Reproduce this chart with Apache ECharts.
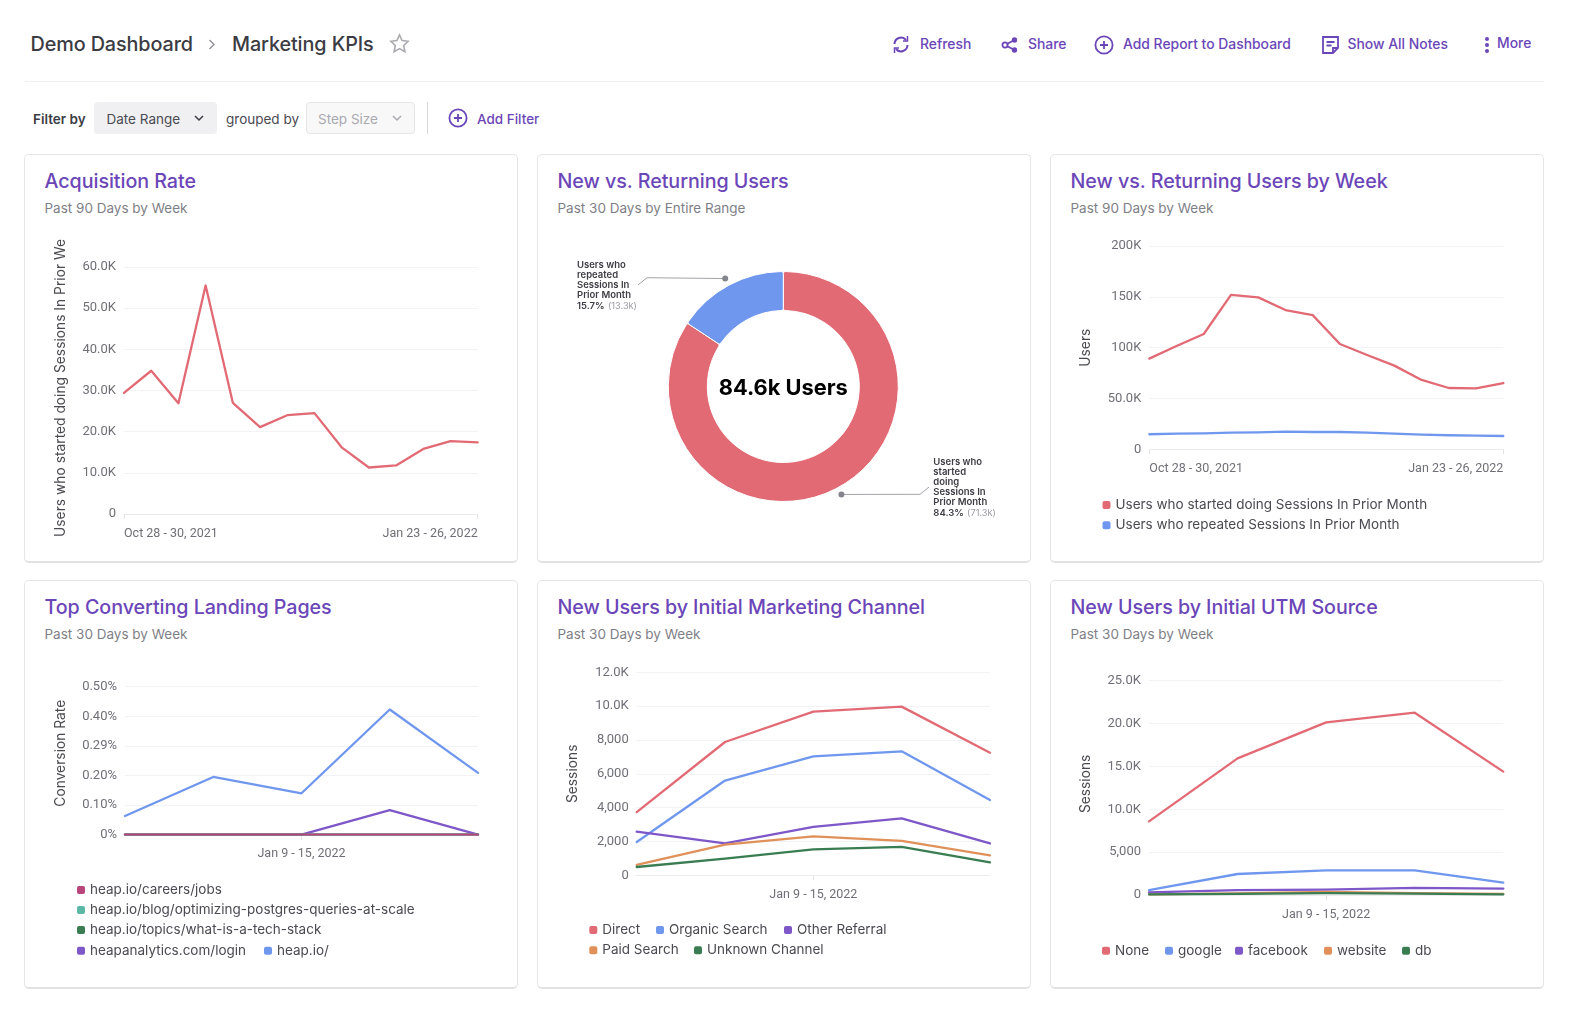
<!DOCTYPE html>
<html>
<head>
<meta charset="utf-8">
<title>Marketing KPIs</title>
<script src="https://cdn.jsdelivr.net/npm/echarts@6/dist/echarts.min.js"></script>
<style>
html,body{margin:0;padding:0;background:#fff;width:1576px;height:1018px;overflow:hidden;font-family:Inter,"Noto Sans",sans-serif;color:#3c3c44}
.abs{position:absolute;white-space:nowrap}
.crumb{font-size:19.8px;font-weight:500;top:31px;line-height:26px;color:#3b3b43;letter-spacing:-.1px}
.act{font-size:13.9px;font-weight:500;color:#6b46b8;top:35px;line-height:18px}
.rule{position:absolute;left:25px;top:81px;width:1519px;height:1px;background:#eeeef0}
.flt{font-size:13.5px;top:110px;line-height:18px}
.box{position:absolute;top:102px;height:32px;border-radius:4px;box-sizing:border-box}
.card{position:absolute;width:494px;height:409px;box-sizing:border-box;border:1px solid #e6e6e9;border-bottom:2px solid #e2e2e5;border-radius:5px;background:#fff}
.card h2{position:absolute;left:19.5px;top:13px;margin:0;font-size:19.7px;line-height:26px;font-weight:500;color:#6b46b8;white-space:nowrap;letter-spacing:-.05px}
.card p{position:absolute;left:19.5px;top:44px;margin:0;font-size:13.5px;line-height:18px;color:#7f7f87;white-space:nowrap}
.chart{position:absolute;left:-1px;top:-1px;width:494px;height:408px}
svg{position:absolute;overflow:visible}
</style>
</head>
<body>

<div class="abs crumb" style="left:30.500px">Demo Dashboard</div>
<svg style="left:208px;top:39px" width="8" height="11" fill="none" stroke="#8b8b93" stroke-width="1.3"><path d="M1.5 1l4.5 4.5-4.5 4.5"/></svg>
<div class="abs crumb" style="left:232px">Marketing KPIs</div>
<svg style="left:389px;top:33px" width="21" height="21" viewBox="0 0 21 21" fill="none" stroke="#a9a9b0" stroke-width="1.6"><path d="M10.5 2l2.6 5.6 6 .7-4.4 4.2 1.2 6.1-5.4-3-5.4 3 1.2-6.1L1.9 8.3l6-.7z"/></svg>

<svg style="left:891px;top:35px" width="20" height="19" viewBox="0 0 20 19" fill="none" stroke="#6b46b8" stroke-width="2"><path d="M3.5 9a6.5 6.5 0 0 1 11.5-4M16.5 10a6.5 6.5 0 0 1-11.5 4"/><path d="M16.5 1v5h-4.500M3.500 18v-5h4.500" stroke-width="1.500"/></svg>
<div class="abs act" style="left:920px">Refresh</div>
<svg style="left:1001px;top:37px" width="17" height="16" viewBox="0 0 17 16" fill="none" stroke="#6b46b8" stroke-width="1.800"><circle cx="4" cy="8" r="2.600"/><circle cx="13.500" cy="3" r="1.800" fill="#6b46b8"/><circle cx="13.500" cy="13" r="1.800" fill="#6b46b8"/><path d="M6.500 6.800l5.500-3M6.500 9.200l5.500 3"/></svg>
<div class="abs act" style="left:1028px">Share</div>
<svg style="left:1094px;top:35px" width="20" height="20" viewBox="0 0 20 20" fill="none" stroke="#6b46b8" stroke-width="1.800"><circle cx="10" cy="10" r="8.600"/><path d="M10 6v8M6 10h8"/></svg>
<div class="abs act" style="left:1123px">Add Report to Dashboard</div>
<svg style="left:1322px;top:36px" width="17" height="18" viewBox="0 0 17 18" fill="none" stroke="#6b46b8" stroke-width="1.800"><path d="M1 1h15v11l-5 5H1zM4.500 6h8M4.500 9.500h5M11 17v-5h5"/></svg>
<div class="abs act" style="left:1347.500px">Show All Notes</div>
<svg style="left:1484px;top:36px" width="6" height="18" fill="#6b46b8"><circle cx="3" cy="3" r="2"/><circle cx="3" cy="9" r="2"/><circle cx="3" cy="15" r="2"/></svg>
<div class="abs act" style="left:1497px;top:34px">More</div>

<div class="rule"></div>

<div class="abs flt" style="left:33px;font-weight:600;color:#3c3c44">Filter by</div>
<div class="box" style="left:94px;width:123px;background:#f0f0f2"></div>
<div class="abs flt" style="left:106.500px;color:#4a4a52">Date Range</div>
<svg style="left:194px;top:115px" width="10" height="7" fill="none" stroke="#3c3c44" stroke-width="1.500"><path d="M1 1l4 4 4-4"/></svg>
<div class="abs flt" style="left:226px;color:#4a4a52">grouped by</div>
<div class="box" style="left:306px;width:109px;background:#f8f8f9;border:1px solid #e6e6e9"></div>
<div class="abs flt" style="left:318px;color:#a9a9b0">Step Size</div>
<svg style="left:392px;top:115px" width="10" height="7" fill="none" stroke="#a9a9b0" stroke-width="1.500"><path d="M1 1l4 4 4-4"/></svg>
<div style="position:absolute;left:427px;top:102px;width:1px;height:32px;background:#d6d6da"></div>
<svg style="left:448px;top:108px" width="20" height="20" viewBox="0 0 20 20" fill="none" stroke="#6b46b8" stroke-width="1.800"><circle cx="10" cy="10" r="8.600"/><path d="M10 6v8M6 10h8"/></svg>
<div class="abs flt" style="left:477px;color:#6b46b8;font-weight:500">Add Filter</div>

<div class="card" style="left:24px;top:154px"><h2>Acquisition Rate</h2><p>Past 90 Days by Week</p><div class="chart" id="acquisition"></div></div>
<div class="card" style="left:537px;top:154px"><h2>New vs. Returning Users</h2><p>Past 30 Days by Entire Range</p><div class="chart" id="newReturning"></div></div>
<div class="card" style="left:1050px;top:154px"><h2>New vs. Returning Users by Week</h2><p>Past 90 Days by Week</p><div class="chart" id="newReturningWeek"></div></div>
<div class="card" style="left:24px;top:580px"><h2>Top Converting Landing Pages</h2><p>Past 30 Days by Week</p><div class="chart" id="landing"></div></div>
<div class="card" style="left:537px;top:580px"><h2>New Users by Initial Marketing Channel</h2><p>Past 30 Days by Week</p><div class="chart" id="channel"></div></div>
<div class="card" style="left:1050px;top:580px"><h2>New Users by Initial UTM Source</h2><p>Past 30 Days by Week</p><div class="chart" id="utm"></div></div>

<script>
// chart data
var weeks90 = ['Oct 28 - 30, 2021','Oct 31 - Nov 6','Nov 7 - 13','Nov 14 - 20','Nov 21 - 27','Nov 28 - Dec 4','Dec 5 - 11','Dec 12 - 18','Dec 19 - 25','Dec 26 - Jan 1','Jan 2 - 8','Jan 9 - 15','Jan 16 - 22','Jan 23 - 26, 2022'];
var weeks30 = ['Dec 28 - Jan 1','Jan 2 - 8','Jan 9 - 15, 2022','Jan 16 - 22','Jan 23 - 26'];

var acquisitionValues = [29400,34800,26900,55500,27000,21100,24000,24500,16200,11300,11800,15800,17700,17400];
var acquisitionTicks = ['0','10.0K','20.0K','30.0K','40.0K','50.0K','60.0K'];

var pieNames = ['Users who started doing Sessions In Prior Month','Users who repeated Sessions In Prior Month'];
var pieValues = [71300,13300];
var pieShares = ['84.3%','15.7%'];
var pieCounts = ['(71.3k)','(13.3k)'];
var pieWrapped = [['Users who','started','doing','Sessions In','Prior Month'],['Users who','repeated','Sessions In','Prior Month']];
var pieTotal = '84.6k Users';

var startedWeekly = [89200,101600,113400,152000,149500,137000,132000,103600,92800,82300,68200,60300,60000,65200];
var repeatedWeekly = [14800,15400,15700,16400,16700,17400,17000,17000,16400,15400,14400,13800,13400,13100];
var usersTicks = ['0','50.0K','100K','150K','200K'];

var landingNames = ['heap.io/careers/jobs','heap.io/blog/optimizing-postgres-queries-at-scale','heap.io/topics/what-is-a-tech-stack','heapanalytics.com/login','heap.io/'];
var careersRate = [0,0,0,0,0];
var blogRate = [0,0,0,0,0];
var topicsRate = [0,0,0,0,0];
var loginRate = [0,0,0,0.083,0];
var homeRate = [0.063,0.195,0.14,0.423,0.209];
var rateTicks = ['0%','0.10%','0.20%','0.29%','0.40%','0.50%'];

var channelNames = ['Direct','Organic Search','Other Referral','Paid Search','Unknown Channel'];
var directSessions = [3740,7880,9680,9970,7250];
var organicSessions = [1970,5600,7030,7330,4450];
var referralSessions = [2580,1890,2860,3370,1890];
var paidSessions = [610,1810,2300,2040,1180];
var unknownSessions = [490,990,1530,1680,770];
var channelTicks = ['0','2,000','4,000','6,000','8,000','10.0K','12.0K'];

var utmNames = ['None','google','facebook','website','db'];
var noneSessions = [8590,15940,20140,21270,14390];
var googleSessions = [580,2450,2880,2880,1440];
var facebookSessions = [310,580,620,820,740];
var websiteSessions = [80,190,350,230,120];
var dbSessions = [80,120,230,155,80];
var utmTicks = ['0','5,000','10.0K','15.0K','20.0K','25.0K'];

var RED='#e26a75', BLUE='#7097ee', PURPLE='#7e57c8', ORANGE='#df9159', GREEN='#3a7d52', MAGENTA='#b9457d', TEAL='#5bb8a6';
var FONT='Inter, "Noto Sans", sans-serif';
var TICK_FONT='Roboto, "Noto Sans", sans-serif';

function line(name,data,color){
    return {name:name,type:'line',data:data,symbol:'none',silent:true,color:color,itemStyle:{color:color},lineStyle:{color:color,width:2.3,cap:'round',join:'round'}};
}

// items are [name, symbol centre x, row y] in page pixels
function legends(card,items){
    return items.map(function(it){
        return {data:[it[0]],left:it[1]-4-card[0],top:it[2]-card[1]-8,padding:0,itemWidth:8,itemHeight:8,itemGap:0,icon:'roundRect',selectedMode:false,
            textStyle:{fontFamily:FONT,fontSize:13.5,color:'#4a4a52',lineHeight:16}};
    });
}

// box is [x0,x1,yTop,yBottom] in page pixels
function lineChart(id,cfg){
    var card=cfg.card, box=cfg.box, cats=cfg.categories;
    var chart=echarts.init(document.getElementById(id));
    var shown=cfg.shownLabels;
    var labelStyle={interval:function(i){return shown.indexOf(i)>=0;},margin:13,color:'#6f6f78',fontFamily:TICK_FONT,fontSize:12.5,hideOverlap:false};
    if(shown.length>1){
        labelStyle.alignMinLabel='left';
        labelStyle.alignMaxLabel='right';
    }
    chart.setOption({
        animation:false,
        grid:{left:box[0]-card[0],top:box[2]-card[1],width:box[1]-box[0],height:box[3]-box[2]},
        legend:legends(card,cfg.legend),
        xAxis:{type:'category',boundaryGap:false,data:cats,
            axisLine:{lineStyle:{color:'#ececee',width:1}},
            axisTick:{show:true,length:5,lineStyle:{color:'#e4e4e6'},interval:function(i){return shown.indexOf(i)>=0;}},
            axisLabel:labelStyle},
        yAxis:{type:'value',min:0,max:cfg.max,interval:cfg.interval,name:cfg.yName,nameLocation:'middle',nameGap:cfg.nameGap,
            nameTextStyle:{color:'#4a4a52',fontFamily:FONT,fontSize:13.8,padding:cfg.namePad||0},
            axisLine:{show:false},axisTick:{show:false},
            splitLine:{lineStyle:{color:'#f3f3f5',width:1}},
            axisLabel:{margin:8,padding:[2,0,0,0],color:'#6f6f78',fontFamily:TICK_FONT,fontSize:13,formatter:function(v){return cfg.ticks[Math.round(v/cfg.interval)];}}},
        series:cfg.series
    });
}

lineChart('acquisition',{
    card:[24,154],box:[124,477.7,267,514],categories:weeks90,shownLabels:[0,13],
    max:60000,interval:10000,ticks:acquisitionTicks,yName:'Users who started doing Sessions In Prior We',nameGap:56,namePad:[0,0,0,5],
    legend:[],series:[line('Users who started doing Sessions In Prior Week',acquisitionValues,RED)]
});

lineChart('newReturningWeek',{
    card:[1050,154],box:[1149.300,1503.300,246,449.300],categories:weeks90,shownLabels:[0,13],
    max:200000,interval:50000,ticks:usersTicks,yName:'Users',nameGap:56,
    legend:[[pieNames[0],1106.500,505],[pieNames[1],1106.500,525.300]],
    series:[line(pieNames[0],startedWeekly,RED),line(pieNames[1],repeatedWeekly,BLUE)]
});

lineChart('landing',{
    card:[24,580],box:[125,478,686.700,834.700],categories:weeks30,shownLabels:[2],
    max:0.5,interval:0.1,ticks:rateTicks,yName:'Conversion Rate',nameGap:57.500,namePad:[0,0,0,15],
    legend:[[landingNames[0],81,890],[landingNames[1],81,910],[landingNames[2],81,930],[landingNames[3],81,950.700],[landingNames[4],268,950.700]],
    series:[line(landingNames[4],homeRate,BLUE),line(landingNames[3],loginRate,PURPLE),line(landingNames[2],topicsRate,GREEN),line(landingNames[1],blogRate,TEAL),line(landingNames[0],careersRate,MAGENTA)]
});

lineChart('channel',{
    card:[537,580],box:[636.700,990,672.300,875.300],categories:weeks30,shownLabels:[2],
    max:12000,interval:2000,ticks:channelTicks,yName:'Sessions',nameGap:57,
    legend:[[channelNames[0],593.300,930],[channelNames[1],660,930],[channelNames[2],788,930],[channelNames[3],593.300,950.300],[channelNames[4],698,950.300]],
    series:[line(channelNames[0],directSessions,RED),line(channelNames[1],organicSessions,BLUE),line(channelNames[2],referralSessions,PURPLE),line(channelNames[3],paidSessions,ORANGE),line(channelNames[4],unknownSessions,GREEN)]
});

lineChart('utm',{
    card:[1050,580],box:[1149,1503.300,680.700,895],categories:weeks30,shownLabels:[2],
    max:25000,interval:5000,ticks:utmTicks,yName:'Sessions',nameGap:56,namePad:[0,0,0,8],
    legend:[[utmNames[0],1106,950.700],[utmNames[1],1169,950.700],[utmNames[2],1239,950.700],[utmNames[3],1328,950.700],[utmNames[4],1406,950.700]],
    series:[line(utmNames[0],noneSessions,RED),line(utmNames[1],googleSessions,BLUE),line(utmNames[2],facebookSessions,PURPLE),line(utmNames[3],websiteSessions,ORANGE),line(utmNames[4],dbSessions,GREEN)]
});

// donut, callouts sit on a ring around the slice middle
var pieCentre=[783.300-537,386.500-154], pieRing=122.600;
var pieTotalValue=pieValues[0]+pieValues[1];
function calloutDot(i){
    var share=pieValues[i]/pieTotalValue, a=(i==0?share/2:1-share/2)*2*Math.PI;
    return [pieCentre[0]+pieRing*Math.sin(a),pieCentre[1]-pieRing*Math.cos(a)];
}
var pieLabelBoxes=[
    {x:933.300-537,y:488-154,elbow:[[920-537,494.300-154],[929-537,487-154]]},
    {x:577-537,y:286-154,elbow:[[647-537,277.700-154],[638-537,285-154]]}
];
var pieChart=echarts.init(document.getElementById('newReturning'));
pieChart.setOption({
    animation:false,
    graphic:[
        {type:'circle',shape:{cx:calloutDot(0)[0],cy:calloutDot(0)[1],r:3},style:{fill:'#85858d'},z:10},
        {type:'circle',shape:{cx:calloutDot(1)[0],cy:calloutDot(1)[1],r:3},style:{fill:'#85858d'},z:10},
        {type:'text',x:pieCentre[0],y:pieCentre[1]+2,z:10,style:{text:pieTotal,align:'center',verticalAlign:'middle',fill:'#000',fontFamily:FONT,fontWeight:700,fontSize:21.800}}
    ],
    series:[{
        type:'pie',silent:true,center:pieCentre,radius:[76,115],startAngle:90,avoidLabelOverlap:false,
        itemStyle:{borderColor:'#fff',borderWidth:1,borderRadius:2},
        data:[{name:pieNames[0],value:pieValues[0],itemStyle:{color:RED}},{name:pieNames[1],value:pieValues[1],itemStyle:{color:BLUE}}],
        label:{show:true,position:'outside',
            formatter:function(p){
                var i=p.dataIndex, rows=pieWrapped[i].map(function(t){return '{n|'+t+'}';});
                rows.push('{n|'+pieShares[i]+'} {v|'+pieCounts[i]+'}');
                return rows.join('\n');
            },
            rich:{n:{fontFamily:FONT,fontSize:9.500,fontWeight:600,color:'#3c3c44',lineHeight:10.100},
                  v:{fontFamily:FONT,fontSize:9.200,color:'#9b9ba3',lineHeight:10.100}}},
        labelLine:{show:true,lineStyle:{color:'#a2a2aa',width:1}},
        labelLayout:function(p){
            var b=pieLabelBoxes[p.dataIndex];
            return {x:b.x,y:b.y,align:'left',verticalAlign:'middle',labelLinePoints:[calloutDot(p.dataIndex),b.elbow[0],b.elbow[1]]};
        }
    }]
});
</script>
</body>
</html>
